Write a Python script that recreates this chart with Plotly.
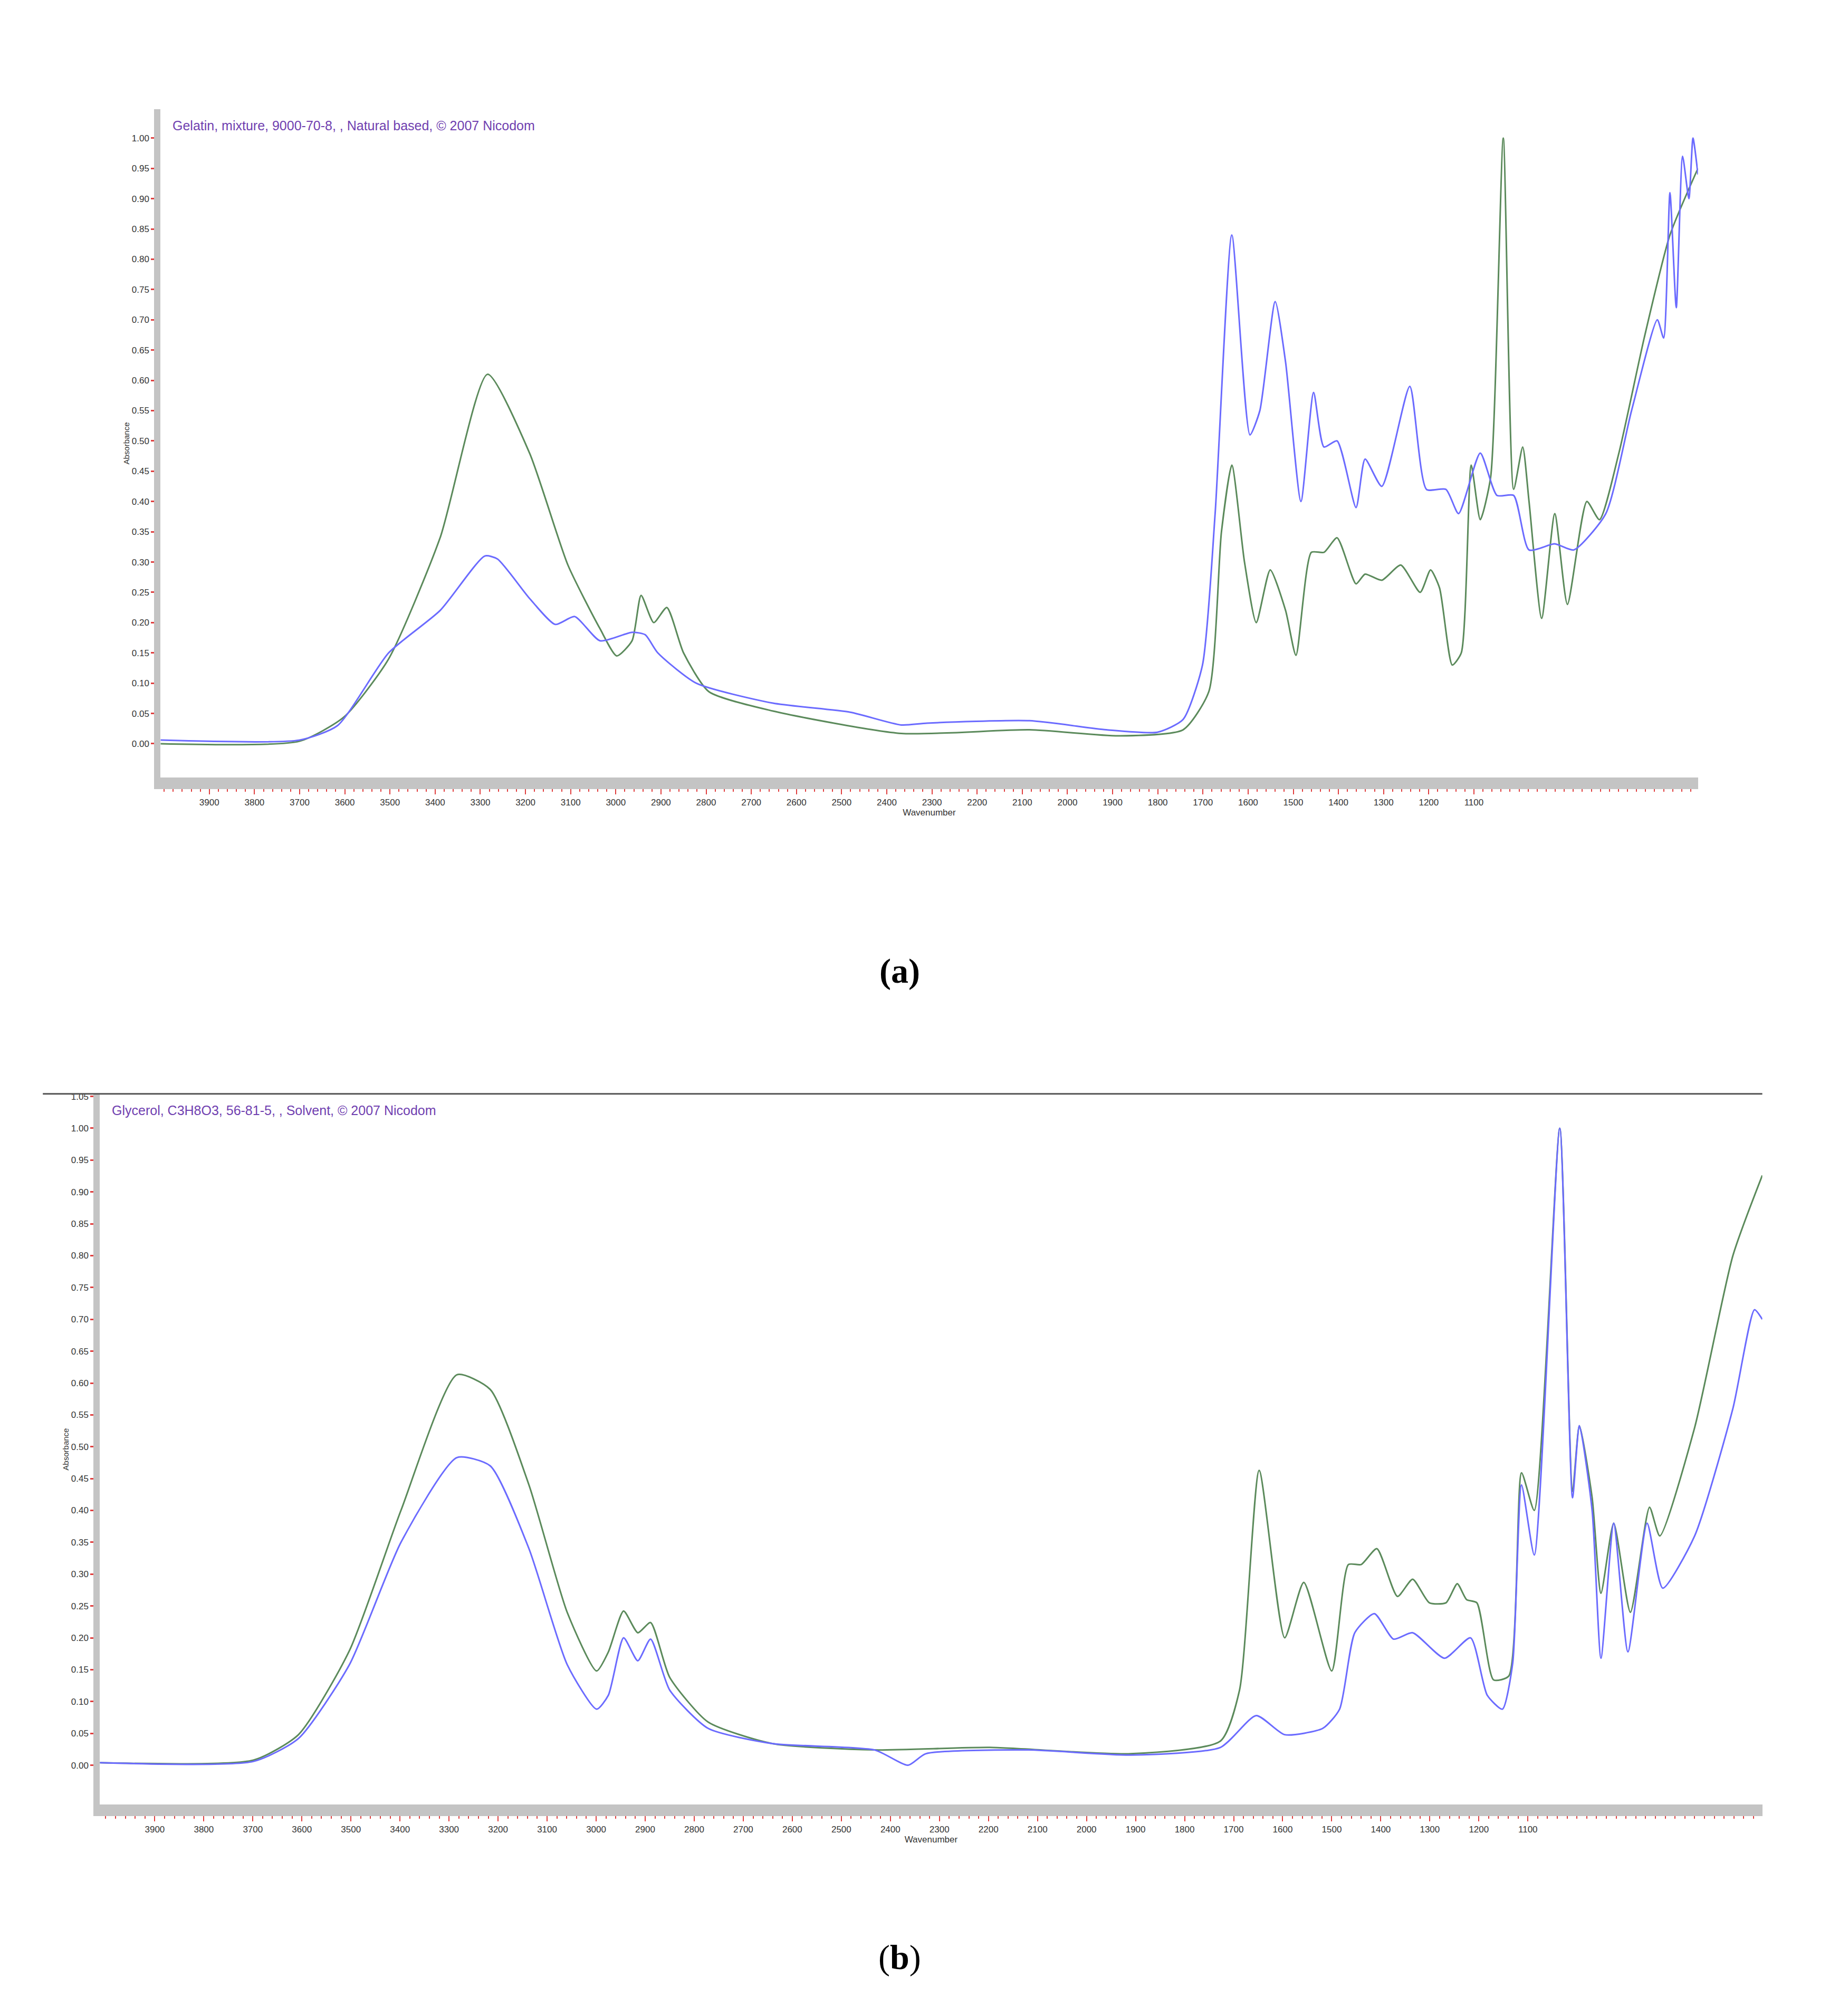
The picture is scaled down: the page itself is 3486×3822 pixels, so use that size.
import plotly.graph_objects as go

# Panel (a): gelatin
a_green_wn = [4008,3701,3602,3503,3389,3284,3191,3106,3035,2998,2964,2944,2916,2887,2850,2794,2652,2368,2084,1886,1744,1687,1659,1636,1608,1582,1551,1517,1494,1460,1432,1403,1361,1341,1304,1262,1219,1196,1176,1148,1128,1106,1086,1063,1035,1012,992,978,950,921,893,850,822,779,723,666,604]
a_green_ab = [0.00,0.004,0.044,0.14,0.34,0.61,0.48,0.295,0.19,0.145,0.17,0.245,0.20,0.225,0.15,0.086,0.054,0.017,0.023,0.013,0.023,0.086,0.35,0.46,0.30,0.20,0.287,0.22,0.146,0.316,0.316,0.34,0.264,0.28,0.27,0.295,0.25,0.287,0.257,0.13,0.15,0.46,0.37,0.44,1.00,0.42,0.49,0.40,0.207,0.38,0.23,0.40,0.37,0.48,0.67,0.84,0.95]
a_blue_wn = [4008,3701,3616,3503,3389,3290,3262,3191,3134,3091,3035,2964,2935,2907,2822,2652,2481,2368,2311,2084,1914,1801,1744,1701,1673,1636,1596,1574,1540,1517,1483,1455,1432,1403,1361,1341,1304,1242,1205,1162,1134,1086,1049,1012,978,921,879,808,751,694,680,666,652,638,624,615,604]
a_blue_ab = [0.006,0.006,0.03,0.15,0.22,0.31,0.305,0.24,0.197,0.21,0.17,0.184,0.18,0.15,0.10,0.067,0.052,0.031,0.034,0.038,0.023,0.019,0.04,0.13,0.38,0.84,0.51,0.55,0.73,0.63,0.40,0.58,0.49,0.50,0.39,0.47,0.425,0.59,0.42,0.42,0.38,0.48,0.41,0.41,0.32,0.33,0.32,0.38,0.55,0.70,0.67,0.91,0.72,0.97,0.90,1.00,0.94]

# Panel (b): glycerol
b_green_wn = [4012,3699,3607,3503,3398,3284,3216,3137,3059,2999,2975,2944,2915,2889,2850,2772,2641,2432,2197,1910,1727,1688,1648,1596,1557,1500,1466,1440,1408,1366,1335,1301,1267,1244,1225,1204,1170,1139,1113,1087,1035,1009,995,969,951,925,891,852,831,760,682,622]
b_green_ab = [0.004,0.008,0.048,0.18,0.40,0.613,0.59,0.44,0.24,0.148,0.178,0.242,0.208,0.224,0.138,0.068,0.034,0.024,0.028,0.018,0.038,0.118,0.463,0.20,0.287,0.148,0.315,0.315,0.34,0.265,0.292,0.255,0.255,0.285,0.26,0.255,0.134,0.14,0.459,0.40,1.00,0.43,0.533,0.42,0.27,0.38,0.24,0.405,0.36,0.53,0.80,0.926]
b_blue_wn = [4012,3699,3607,3503,3398,3284,3216,3137,3059,2999,2975,2944,2915,2889,2850,2772,2641,2432,2364,2328,2119,1910,1727,1654,1596,1518,1484,1453,1413,1374,1335,1270,1217,1183,1152,1131,1113,1087,1035,1009,995,969,951,925,896,857,825,760,682,638,622]
b_blue_ab = [0.004,0.006,0.042,0.158,0.35,0.483,0.47,0.34,0.158,0.088,0.11,0.20,0.164,0.198,0.118,0.058,0.034,0.024,0.0,0.018,0.024,0.016,0.028,0.078,0.048,0.058,0.088,0.208,0.238,0.198,0.208,0.168,0.20,0.11,0.088,0.16,0.44,0.33,1.00,0.42,0.533,0.40,0.168,0.38,0.178,0.38,0.278,0.36,0.56,0.715,0.70]

x_ticks = list(range(3900, 1000, -100))
y_ticks = [round(i * 0.05, 2) for i in range(22)]
titles = ["Gelatin, mixture, 9000-70-8, , Natural based, © 2007 Nicodom",
          "Glycerol, C3H8O3, 56-81-5, , Solvent, © 2007 Nicodom"]

GREEN = "#5b8a5b"
BLUE = "#6b6bff"
FONT = "Liberation Sans Narrow, Liberation Sans"

fig = go.Figure()
panels = [
    (a_green_wn, a_green_ab, a_blue_wn, a_blue_ab, [4008, 604], [-0.056, 1.048], [0.085, 0.921], [0.617, 0.949]),
    (b_green_wn, b_green_ab, b_blue_wn, b_blue_ab, [4012, 622], [-0.062, 1.054], [0.052, 0.956], [0.107, 0.460]),
]
for i, (gw, ga, bw, ba, xr, yr, xd, yd) in enumerate(panels):
    xa = "x" if i == 0 else "x2"
    ya = "y" if i == 0 else "y2"
    fig.add_trace(go.Scatter(x=gw, y=ga, mode="lines", line=dict(color=GREEN, width=3, shape="spline", smoothing=0.6), xaxis=xa, yaxis=ya, showlegend=False))
    fig.add_trace(go.Scatter(x=bw, y=ba, mode="lines", line=dict(color=BLUE, width=3, shape="spline", smoothing=0.6), xaxis=xa, yaxis=ya, showlegend=False))
    axx = dict(domain=xd, range=xr, tickvals=x_ticks, ticktext=[str(v) for v in x_ticks],
               showgrid=False, zeroline=False, showline=True, linecolor="#c4c4c4", linewidth=22,
               ticks="outside", ticklen=10, tickcolor="#e04040", tickwidth=2,
               minor=dict(dtick=20, ticks="outside", ticklen=5, tickcolor="#e04040", tickwidth=2),
               tickfont=dict(family=FONT, size=17, color="#333"),
               title=dict(text="Wavenumber", font=dict(family=FONT, size=17, color="#333"), standoff=2),
               anchor=ya)
    axy = dict(domain=yd, range=yr, tickvals=y_ticks, ticktext=["%.2f" % v for v in y_ticks],
               showgrid=False, zeroline=False, showline=True, linecolor="#c4c4c4", linewidth=12,
               ticks="outside", ticklen=6, tickcolor="#e04040", tickwidth=3,
               tickfont=dict(family=FONT, size=17, color="#333"),
               title=dict(text="Absorbance", font=dict(family=FONT, size=15, color="#333"), standoff=6),
               anchor=xa)
    if i == 0:
        fig.update_layout(xaxis=axx, yaxis=axy)
    else:
        fig.update_layout(xaxis2=axx, yaxis2=axy)
    fig.add_annotation(text=titles[i], xref="paper", yref="paper", x=xd[0] + 0.006, y=yd[1] - 0.004,
                       xanchor="left", yanchor="top", showarrow=False,
                       font=dict(family=FONT, size=25, color="#7040b0"))

fig.add_annotation(text="<b>(a)</b>", xref="paper", yref="paper", x=0.487, y=0.521, showarrow=False,
                   font=dict(family="Liberation Serif", size=66, color="black"))
fig.add_annotation(text="(<b>b</b>)", xref="paper", yref="paper", x=0.487, y=0.021, showarrow=False,
                   font=dict(family="Liberation Serif", size=66, color="black"))
fig.add_shape(type="line", xref="paper", yref="paper", x0=0.021, x1=0.956, y0=0.460, y1=0.460,
              line=dict(color="#555", width=3))

fig.update_layout(width=3486, height=3822, plot_bgcolor="white", paper_bgcolor="white",
                  margin=dict(l=0, r=0, t=0, b=0))
fig.write_html("out.html")
